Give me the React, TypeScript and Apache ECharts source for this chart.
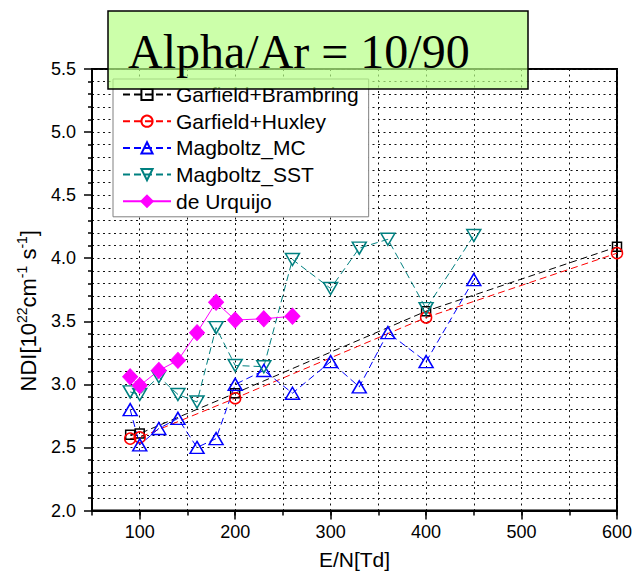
import React, { useEffect, useRef } from 'react';
import * as echarts from 'echarts';

const seriesNames = ['Garfield+Brambring', 'Garfield+Huxley', 'Magboltz_MC', 'Magboltz_SST', 'de Urquijo'];

const brambringX = [90, 100, 200, 400, 600];
const brambringY = [2.60, 2.61, 2.93, 3.58, 4.09];

const huxleyX = [90, 100, 200, 400, 600];
const huxleyY = [2.57, 2.58, 2.89, 3.53, 4.04];

const mcX = [90, 100, 120, 140, 160, 180, 200, 230, 260, 300, 330, 360, 400, 450];
const mcY = [2.80, 2.52, 2.65, 2.73, 2.50, 2.57, 3.00, 3.11, 2.93, 3.18, 2.98, 3.41, 3.18, 3.83];

const sstX = [90, 100, 120, 140, 160, 180, 200, 230, 260, 300, 330, 360, 400, 450];
const sstY = [2.94, 2.92, 3.06, 2.92, 2.86, 3.45, 3.15, 3.14, 3.99, 3.76, 4.08, 4.15, 3.60, 4.18];

const urqX = [90, 100, 120, 140, 160, 180, 200, 230, 260];
const urqY = [3.06, 2.99, 3.11, 3.19, 3.41, 3.65, 3.51, 3.52, 3.54];

const xMajorTicks = [100, 200, 300, 400, 500, 600];

const titleText = 'Alpha/Ar = 10/90';
const xName = 'E/N[Td]';

const SANS = '"Liberation Sans", Arial, sans-serif';
const SERIF = '"Liberation Serif", "Times New Roman", serif';

const zip = (xs: number[], ys: number[]) => xs.map((x, i) => [x, ys[i]]);

function lineSeries(name: string, xs: number[], ys: number[], color: string, symbol: string, size: any, opts: any = {}) {
  const filled = opts.filled;
  return {
    name,
    type: 'line',
    data: zip(xs, ys),
    xAxisIndex: 0,
    yAxisIndex: 0,
    symbol,
    symbolSize: size,
    showAllSymbol: true,
    lineStyle: { color, width: 1, type: opts.solid ? 'solid' : [7, 4] },
    itemStyle: filled
      ? { color, borderColor: color, borderWidth: 1 }
      : { color: 'rgba(255,255,255,0)', borderColor: color, borderWidth: 1.5 },
    emphasis: { disabled: true },
  };
}

export default function App() {
  const ref = useRef<HTMLDivElement>(null);

  useEffect(() => {
    if (!ref.current) return;
    const chart = echarts.init(ref.current, undefined, { renderer: 'svg' });
    const gridLine = { show: true, lineStyle: { color: '#111', width: 1, type: [2, 3.5] } };

    chart.setOption({
      animation: false,
      backgroundColor: '#fff',
      grid: {
        left: 92,
        right: 18,
        top: 69,
        bottom: 69.5,
        show: true,
        borderColor: '#000',
        borderWidth: 2,
        backgroundColor: 'rgba(0,0,0,0)',
        outerBoundsMode: 'none',
      },
      legend: {
        orient: 'vertical',
        left: 113,
        top: 79,
        padding: [5, 10, 5, 9],
        itemWidth: 48,
        itemHeight: 14,
        itemGap: 5.7,
        backgroundColor: '#fff',
        borderColor: '#808080',
        borderWidth: 1,
        data: seriesNames,
        textStyle: { fontSize: 21, fontFamily: SANS, color: '#000', lineHeight: 20 },
        z: 5,
      },
      xAxis: [
        {
          type: 'value',
          min: 50,
          max: 600,
          interval: 50,
          position: 'bottom',
          axisLine: { show: true, onZero: false, lineStyle: { color: '#000', width: 2 } },
          axisTick: { show: true, length: 5, lineStyle: { color: '#000', width: 1.5 } },
          axisLabel: { show: false },
          splitLine: gridLine,
        },
        {
          type: 'value',
          min: 50,
          max: 600,
          interval: 50,
          position: 'bottom',
          axisLine: { show: false, onZero: false },
          axisTick: { show: true, length: 9, customValues: xMajorTicks, lineStyle: { color: '#000', width: 1.5 } },
          axisLabel: {
            show: true,
            customValues: xMajorTicks,
            margin: 12,
            fontSize: 18,
            fontFamily: SANS,
            color: '#000',
            formatter: (v: number) => (v % 100 === 0 ? String(v) : ''),
          },
          splitLine: { show: false },
          name: xName,
          nameLocation: 'middle',
          nameGap: 38,
          nameTextStyle: { fontSize: 21, fontFamily: SANS, color: '#000' },
        },
      ],
      yAxis: [
        {
          type: 'value',
          min: 2,
          max: 5.5,
          interval: 0.5,
          axisLine: { show: true, onZero: false, lineStyle: { color: '#000', width: 2 } },
          axisTick: { show: true, length: 8, lineStyle: { color: '#000', width: 1.5 } },
          minorTick: { show: true, splitNumber: 5, length: 4, lineStyle: { color: '#000', width: 1.5 } },
          axisLabel: {
            margin: 16,
            fontSize: 18,
            fontFamily: SANS,
            color: '#000',
            formatter: (v: number) => v.toFixed(1),
          },
          splitLine: gridLine,
          minorSplitLine: gridLine,
          name: '{n|NDI[10}{s|22}{n|cm}{s|-1}{n| s}{s|-1}{n|]}',
          nameLocation: 'middle',
          nameGap: 50,
          nameTextStyle: {
            padding: [0, 42, 0, 0],
            rich: {
              n: { fontSize: 22, fontFamily: SANS, color: '#000', lineHeight: 27 },
              s: { fontSize: 14, fontFamily: SANS, color: '#000', lineHeight: 15, verticalAlign: 'top' },
            },
          },
        },
      ],
      graphic: [
        {
          type: 'rect',
          z: 100,
          shape: { x: 108, y: 11, width: 420, height: 78 },
          style: { fill: 'rgba(182,255,134,0.7)', stroke: '#000', lineWidth: 1.5 },
        },
        {
          type: 'text',
          z: 101,
          x: 128,
          y: 51,
          style: {
            text: titleText,
            fontSize: 48,
            fontFamily: SERIF,
            fill: '#000',
            align: 'left',
            verticalAlign: 'middle',
          },
        },
      ],
      series: [
        lineSeries(seriesNames[0], brambringX, brambringY, '#000000', 'rect', 9),
        lineSeries(seriesNames[1], huxleyX, huxleyY, '#ff0000', 'circle', 11),
        lineSeries(seriesNames[2], mcX, mcY, '#0000ff', 'triangle', [14, 12]),
        lineSeries(seriesNames[3], sstX, sstY, '#008080', 'path://M0,0L12,0L6,10.4Z', [14, 12]),
        lineSeries(seriesNames[4], urqX, urqY, '#ff00ff', 'diamond', [15, 16], { filled: true, solid: true }),
      ],
    });

    return () => chart.dispose();
  }, []);

  return (
    <div
      ref={ref}
      style={{ position: 'fixed', left: 0, top: 0, width: 635, height: 580 }}
    />
  );
}
